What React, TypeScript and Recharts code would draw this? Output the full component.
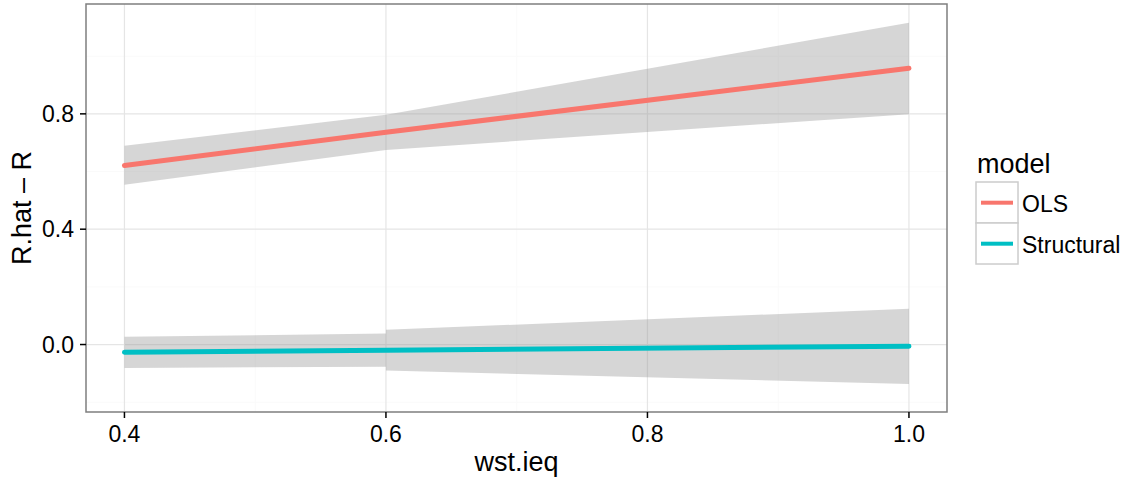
import {
  ComposedChart, Area, Line, XAxis, YAxis, CartesianGrid,
  ReferenceArea, Legend, Label
} from "recharts";

// wst.ieq values; 0.6 appears twice because the structural band steps there
const wstIeq = [0.4, 0.6, 0.6, 1.0];

const olsFit = [0.621, 0.736, 0.736, 0.958];
const olsLower = [0.554, 0.675, 0.675, 0.799];
const olsUpper = [0.689, 0.797, 0.797, 1.116];

const structFit = [-0.027, -0.0195, -0.0195, -0.006];
const structLower = [-0.081, -0.077, -0.09, -0.137];
const structUpper = [0.027, 0.038, 0.051, 0.124];

const xTicks = [0.4, 0.6, 0.8, 1.0];
const yTicks = [0.0, 0.4, 0.8];
const xMinor = [0.5, 0.7, 0.9];
const yMinor = [-0.2, 0.2, 0.6, 1.0];

const X_DOMAIN: [number, number] = [0.3706, 1.0291];
const Y_DOMAIN: [number, number] = [-0.234, 1.181];

const OLS_COLOR = "#F8766D";
const STRUCT_COLOR = "#00BFC4";
const FONT = "'Liberation Sans', Arial, Helvetica, sans-serif";

const data = wstIeq.map((x, i) => ({
  x,
  ols: olsFit[i],
  olsBand: [olsLower[i], olsUpper[i]],
  structural: structFit[i],
  structBand: [structLower[i], structUpper[i]],
}));

const renderLegend = (props: any) => {
  const items = (props.payload || []).filter((p: any) => p.type !== "none");
  return (
    <svg width={169} height={140} style={{ display: "block" }}>
      <text x={17} y={33.3} fontSize={27} fontFamily={FONT} fill="#000">
        model
      </text>
      {items.map((item: any, i: number) => {
        const top = 42 + i * 41;
        return (
          <g key={item.value}>
            <rect x={16} y={top} width={42} height={41} fill="#fff" stroke="#CCCCCC" strokeWidth={1.5} />
            <line x1={21} x2={53} y1={top + 20.7} y2={top + 20.7} stroke={item.color} strokeWidth={4} />
            <text x={62} y={top + 29.7} fontSize={23} fontFamily={FONT} fill="#000">
              {item.value}
            </text>
          </g>
        );
      })}
    </svg>
  );
};

export default function App() {
  const tickStyle = { fontSize: 23, fontFamily: FONT, fill: "#000" };
  return (
    <div style={{ position: "absolute", left: 0, top: 0 }}>
      <ComposedChart
        width={1129}
        height={482}
        data={data}
        margin={{ top: 4, right: 182, bottom: 10, left: 6 }}
      >
        <CartesianGrid
          stroke="#FAFAFA"
          strokeWidth={1}
          horizontalValues={yMinor}
          verticalValues={xMinor}
        />
        <CartesianGrid
          stroke="#E5E5E5"
          strokeWidth={1.2}
          horizontalValues={yTicks}
          verticalValues={xTicks}
        />
        <XAxis
          dataKey="x"
          type="number"
          domain={X_DOMAIN}
          ticks={xTicks}
          allowDataOverflow
          height={60}
          axisLine={false}
          tickSize={6}
          tickMargin={8}
          tickLine={{ stroke: "#000", strokeWidth: 1.5 }}
          tick={tickStyle}
          tickFormatter={(v: number) => v.toFixed(1)}
        >
          <Label
            content={(p: any) => {
              const vb = p.viewBox || {};
              return (
                <text
                  x={vb.x + vb.width / 2}
                  y={vb.y + 59}
                  textAnchor="middle"
                  fontSize={27}
                  fontFamily={FONT}
                  fill="#000"
                >
                  wst.ieq
                </text>
              );
            }}
          />
        </XAxis>
        <YAxis
          type="number"
          domain={Y_DOMAIN}
          ticks={yTicks}
          allowDataOverflow
          width={80}
          axisLine={false}
          tickSize={6}
          tickMargin={6}
          tickLine={{ stroke: "#000", strokeWidth: 1.5 }}
          tick={tickStyle}
          tickFormatter={(v: number) => v.toFixed(1)}
        >
          <Label
            content={(p: any) => {
              const vb = p.viewBox || {};
              const cx = vb.x + 25;
              const cy = vb.y + vb.height / 2;
              return (
                <text
                  x={cx}
                  y={cy}
                  transform={`rotate(-90 ${cx} ${cy})`}
                  textAnchor="middle"
                  fontSize={27}
                  fontFamily={FONT}
                  fill="#000"
                >
                  R.hat – R
                </text>
              );
            }}
          />
        </YAxis>
        <Area
          dataKey="olsBand"
          type="linear"
          fill="#999999"
          fillOpacity={0.4}
          stroke="none"
          legendType="none"
          isAnimationActive={false}
        />
        <Area
          dataKey="structBand"
          type="linear"
          fill="#999999"
          fillOpacity={0.4}
          stroke="none"
          legendType="none"
          isAnimationActive={false}
        />
        <Line
          dataKey="ols"
          name="OLS"
          type="linear"
          stroke={OLS_COLOR}
          strokeWidth={5}
          strokeLinecap="round"
          dot={false}
          activeDot={false}
          isAnimationActive={false}
        />
        <Line
          dataKey="structural"
          name="Structural"
          type="linear"
          stroke={STRUCT_COLOR}
          strokeWidth={5}
          strokeLinecap="round"
          dot={false}
          activeDot={false}
          isAnimationActive={false}
        />
        <ReferenceArea
          x1={X_DOMAIN[0]}
          x2={X_DOMAIN[1]}
          y1={Y_DOMAIN[0]}
          y2={Y_DOMAIN[1]}
          fill="none"
          stroke="#7F7F7F"
          strokeWidth={1.5}
          ifOverflow="visible"
        />
        <Legend
          layout="horizontal"
          align="center"
          verticalAlign="middle"
          content={renderLegend}
          wrapperStyle={{ left: 960, top: 140, width: 169, height: 140 }}
        />
      </ComposedChart>
    </div>
  );
}
